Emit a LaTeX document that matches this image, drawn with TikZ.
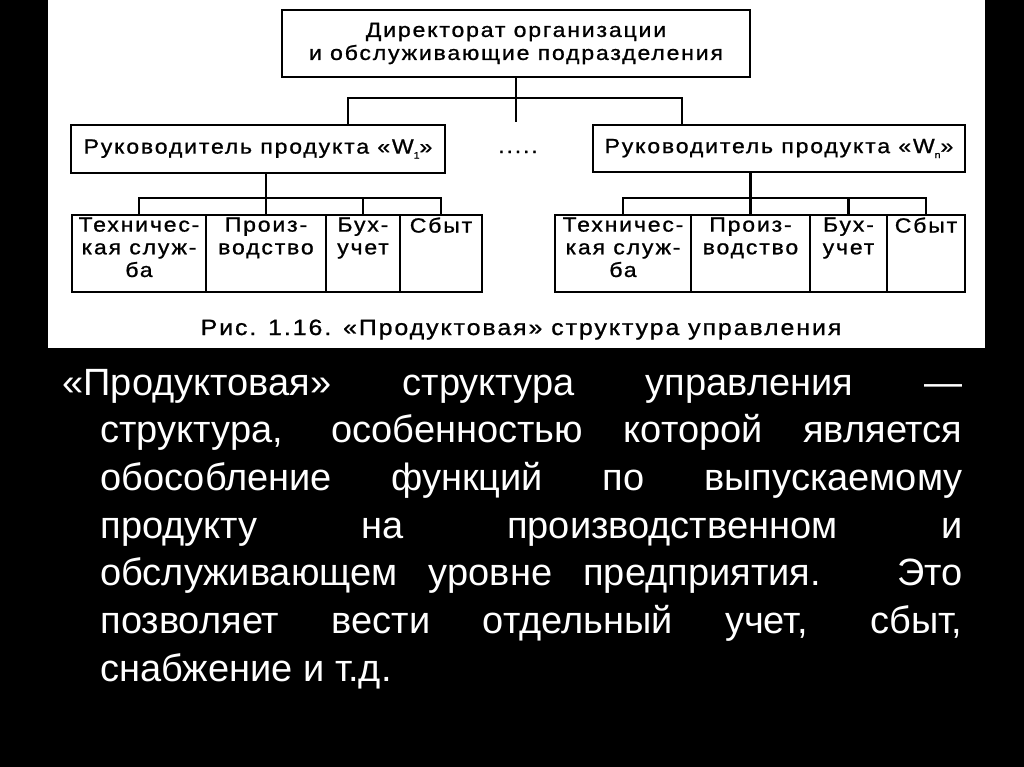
\documentclass[tikz,border=0pt]{standalone}
\usepackage{fontspec}
\setmainfont{Liberation Sans}
\newfontfamily\chartfont{Liberation Sans}[FakeStretch=1.12,LetterSpace=9,FakeBold=1]
\tikzset{every picture/.style={line width=0.75pt}}
\tikzset{
  unitbox/.style={draw, line width=2pt, inner sep=0pt, align=center,
    font=\chartfont\fontsize{15.4}{17.25}\selectfont},
  boxtext/.style={anchor=north, inner sep=2.5pt, align=center,
    font=\chartfont\fontsize{15.4}{17}\selectfont},
  link/.style={line width=2pt},
  slide/.style={anchor=base west, inner sep=0pt, text=white,
    font=\fontsize{28.5}{36}\selectfont},
}

\begin{document}
\begin{tikzpicture}[x=0.75pt,y=0.75pt,yscale=-1,xscale=1]
%Background
\fill[black] (0,0) rectangle (1024,767);
\fill[white] (48,0) rectangle (985,348);

%Shape: Rectangle [directorate]
\node[unitbox, minimum width=351pt, minimum height=50.25pt] (dir) at (516,43.5)
  {Директорат организации\\и обслуживающие подразделения};
%Shape: Rectangle [product managers]
\node[unitbox, minimum width=280.5pt, minimum height=36pt] (man1) at (258,149)
  {Руководитель продукта «W\raisebox{-0.45ex}{\scriptsize 1}»};
\node[unitbox, minimum width=279pt, minimum height=35.25pt] (man2) at (779,148.5)
  {Руководитель продукта «W\raisebox{-0.45ex}{\scriptsize n}»};
% Text Node
\node[boxtext, anchor=base, inner sep=0pt] (dots) at (518,153) {.....};

%Shape: Rectangle [departments, product 1]
\node[unitbox, minimum width=100.5pt, minimum height=57.75pt] (t1) at (139,253.5) {};
\node[unitbox, minimum width=90pt, minimum height=57.75pt] (p1) at (266,253.5) {};
\node[unitbox, minimum width=55.5pt, minimum height=57.75pt] (b1) at (363,253.5) {};
\node[unitbox, minimum width=61.5pt, minimum height=57.75pt] (s1) at (441,253.5) {};
%Shape: Rectangle [departments, product n]
\node[unitbox, minimum width=102pt, minimum height=57.75pt] (t2) at (623,253.5) {};
\node[unitbox, minimum width=89.25pt, minimum height=57.75pt] (p2) at (750.5,253.5) {};
\node[unitbox, minimum width=57.75pt, minimum height=57.75pt] (b2) at (848.5,253.5) {};
\node[unitbox, minimum width=58.5pt, minimum height=57.75pt] (s2) at (926,253.5) {};

% Text Node
\node[boxtext] (t1txt) at (t1.north) {Техничес-\\кая служ-\\ба};
\node[boxtext] (p1txt) at (p1.north) {Произ-\\водство};
\node[boxtext] (b1txt) at (b1.north) {Бух-\\учет};
\node[boxtext] (s1txt) at (s1.north) {Сбыт};
\node[boxtext] (t2txt) at (t2.north) {Техничес-\\кая служ-\\ба};
\node[boxtext] (p2txt) at (p2.north) {Произ-\\водство};
\node[boxtext] (b2txt) at (b2.north) {Бух-\\учет};
\node[boxtext] (s2txt) at (s2.north) {Сбыт};

%Straight Lines [directorate to managers]
\coordinate (hub) at (516,98);
\coordinate (tail) at (516,122);
\coordinate (m1top) at (348,125);
\coordinate (m2top) at (682,125);
\draw[link] (dir.south) -- (tail);
\draw[link] (m1top) |- (hub) -| (m2top);

%Straight Lines [manager 1 to departments]
\coordinate (bus1) at (0,198);
\draw[link] (man1.south -| p1.north) -- (p1.north);
\draw[link] (t1.north) |- (bus1 -| s1.north) -- (s1.north);
\draw[link] (b1.north) -- (b1.north |- bus1);
%Straight Lines [manager n to departments]
\coordinate (bus2) at (0,198);
\draw[link] (man2.south -| p2.north) -- (p2.north);
\draw[link] (t2.north) |- (bus2 -| s2.north) -- (s2.north);
\draw[link] (b2.north) -- (b2.north |- bus2);

% Text Node
\node[boxtext, anchor=base, inner sep=0pt, font=\chartfont\fontsize{16.6}{17}\selectfont]
  (caption) at (521,335) {Рис. 1.16. «Продуктовая» структура управления};

% Text Node [slide text]
\node[slide] (line1) at (62,395) {\makebox[675pt][s]{«Продуктовая» структура управления —}};
\node[slide] (line2) at (100,442.7) {\makebox[646.5pt][s]{структура, особенностью которой является}};
\node[slide] (line3) at (100,490.4) {\makebox[646.5pt][s]{обособление функций по выпускаемому}};
\node[slide] (line4) at (100,538.1) {\makebox[646.5pt][s]{продукту на производственном и}};
\node[slide] (line5) at (100,585.8) {\makebox[646.5pt][s]{обслуживающем уровне предприятия. Это}};
\node[slide] (line6) at (100,633.5) {\makebox[646.5pt][s]{позволяет вести отдельный учет, сбыт,}};
\node[slide] (line7) at (100,681.2) {снабжение и т.д.};

\end{tikzpicture}
\end{document}
